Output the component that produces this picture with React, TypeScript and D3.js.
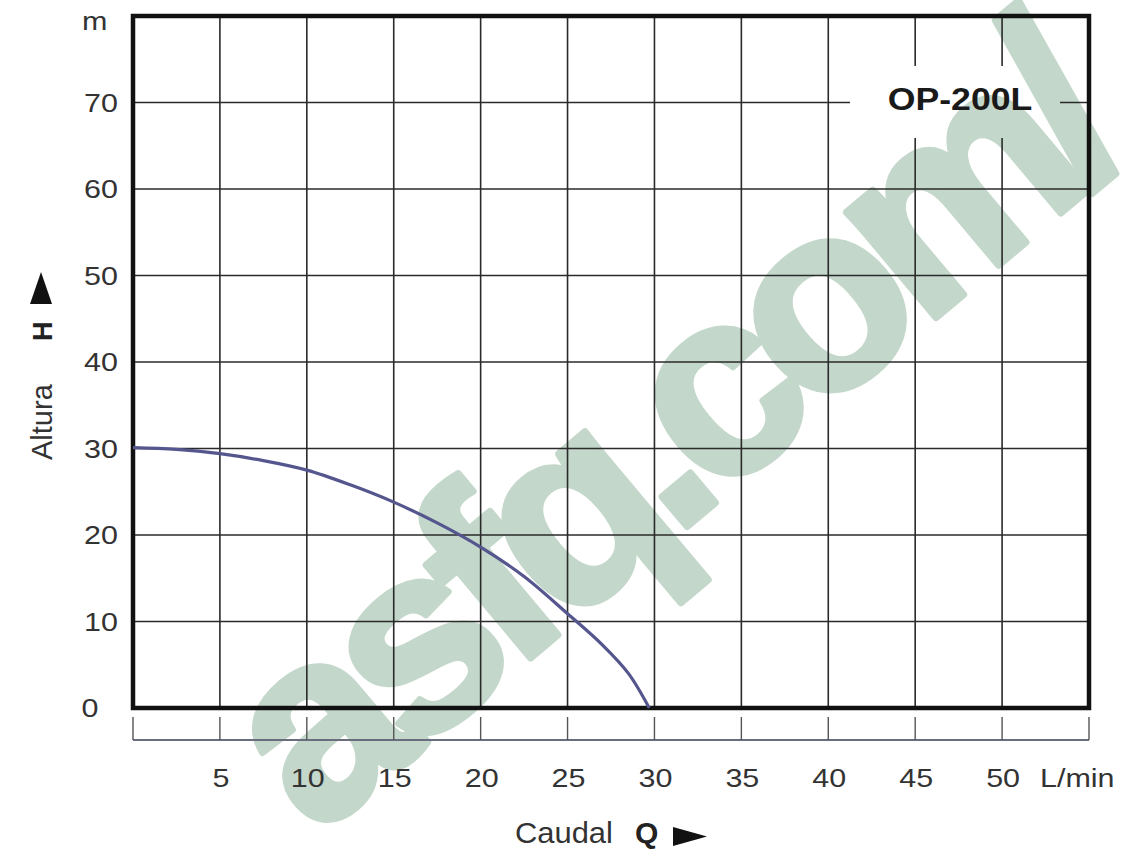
import React from "react";
import * as d3 from "d3";

const flowQ = [0, 2.5, 5, 7.5, 10, 12.5, 15, 17.5, 20, 22.5, 25, 27, 28.5, 29.7];
const headH = [30.1, 29.9, 29.4, 28.6, 27.5, 25.8, 23.8, 21.4, 18.6, 15.2, 10.9, 7.3, 4.0, 0];
const xTicks = [0, 5, 10, 15, 20, 25, 30, 35, 40, 45, 50, 55];
const xLabels = [5, 10, 15, 20, 25, 30, 35, 40, 45, 50];
const yTicks = [0, 10, 20, 30, 40, 50, 60, 70, 80];
const yLabels = [0, 10, 20, 30, 40, 50, 60, 70];
const modelName = "OP-200L";
const watermark = "asfq.com/";

const font = "'Liberation Sans', Arial, sans-serif";

function SText(props: {
  x: number; y: number; sx?: number; anchor?: string; size: number; weight?: string; fill?: string; children: any;
}) {
  const { x, y, sx = 1.22, anchor = "start", size, weight = "normal", fill = "#333", children } = props;
  return (
    <text
      transform={`translate(${x},${y}) scale(${sx},1)`}
      textAnchor={anchor}
      fontSize={size}
      fontWeight={weight}
      fill={fill}
      fontFamily={font}
    >
      {children}
    </text>
  );
}

export default function App() {
  const W = 1125, H = 857;
  const x = d3.scaleLinear().domain([0, 55]).range([133, 1089]);
  const y = d3.scaleLinear().domain([0, 80]).range([708, 16]);
  const line = d3
    .line<number>()
    .x((_, i) => x(flowQ[i]))
    .y((d) => y(d))
    .curve(d3.curveCatmullRom.alpha(0.5));
  const axisY = 740;
  return (
    <svg width={W} height={H} style={{ position: "absolute", left: 0, top: 0 }} fontFamily={font}>
      <defs>
        <mask id="gridMask">
          <rect x={0} y={0} width={W} height={H} fill="#fff" />
          <rect x={850} y={66} width={210} height={72} fill="#000" />
        </mask>
      </defs>
      <rect width={W} height={H} fill="#fff" />
      {/* watermark */}
      <text
        x={0}
        y={0}
        transform={`translate(316,838) rotate(-40)`}
        textAnchor="start"
        fontSize={262}
        fontWeight="bold"
        letterSpacing={-18}
        fill="#c3d7ca"
        stroke="#c3d7ca"
        strokeWidth={7}
        strokeLinejoin="round"
        fontFamily={font}
      >
        {watermark}
      </text>
      {/* grid */}
      <g mask="url(#gridMask)">
        {xTicks.slice(1, -1).map((t) => (
          <line key={"vx" + t} x1={x(t)} x2={x(t)} y1={y(80)} y2={y(0)} stroke="#2a2a2a" strokeWidth={1.6} />
        ))}
        {yTicks.slice(1, -1).map((t) => (
          <line key={"hy" + t} x1={x(0)} x2={x(55)} y1={y(t)} y2={y(t)} stroke="#2a2a2a" strokeWidth={1.6} />
        ))}
      </g>
      {/* model label */}
      <SText x={960} y={110} anchor="middle" size={31} weight="bold" fill="#1a1a1a" sx={1.15}>
        {modelName}
      </SText>
      {/* frame */}
      <rect x={x(0)} y={y(80)} width={x(55) - x(0)} height={y(0) - y(80)} fill="none" stroke="#111" strokeWidth={4.5} />
      {/* curve */}
      <path d={line(headH) || ""} fill="none" stroke="#55568e" strokeWidth={3.2} />
      {/* secondary x axis */}
      <line x1={x(0)} x2={x(55)} y1={axisY} y2={axisY} stroke="#6a6d7e" strokeWidth={1.8} />
      {xTicks.map((t) => (
        <line key={"tk" + t} x1={x(t)} x2={x(t)} y1={axisY - 23} y2={axisY} stroke="#555" strokeWidth={1.4} />
      ))}
      {xLabels.map((t) => (
        <SText key={"xl" + t} x={x(t) + 1} y={787} anchor="middle" size={25}>
          {t}
        </SText>
      ))}
      <SText x={1040} y={787} size={25}>L/min</SText>
      {yLabels.map((t) => (
        <SText key={"yl" + t} x={t === 0 ? 90 : 118} y={y(t) + 9} anchor={t === 0 ? "middle" : "end"} size={25}>
          {t}
        </SText>
      ))}
      <SText x={82} y={30} size={25}>m</SText>
      {/* x title */}
      <SText x={515} y={843} size={30} sx={1.03}>Caudal</SText>
      <SText x={635} y={843} size={30} sx={1.0} weight="bold" fill="#222">Q</SText>
      <path d="M 673 827 L 673 846 L 707 836.5 Z" fill="#111" />
      {/* y title */}
      <g transform="translate(52,0) rotate(-90)">
        <text x={-460} y={0} fontSize={29} fill="#333" fontFamily={font}>Altura</text>
        <text x={-341} y={0} fontSize={27} fontWeight="bold" fill="#222" fontFamily={font}>H</text>
        <path d="M -304 -22 L -304 0 L -272 -11 Z" fill="#111" />
      </g>
    </svg>
  );
}
